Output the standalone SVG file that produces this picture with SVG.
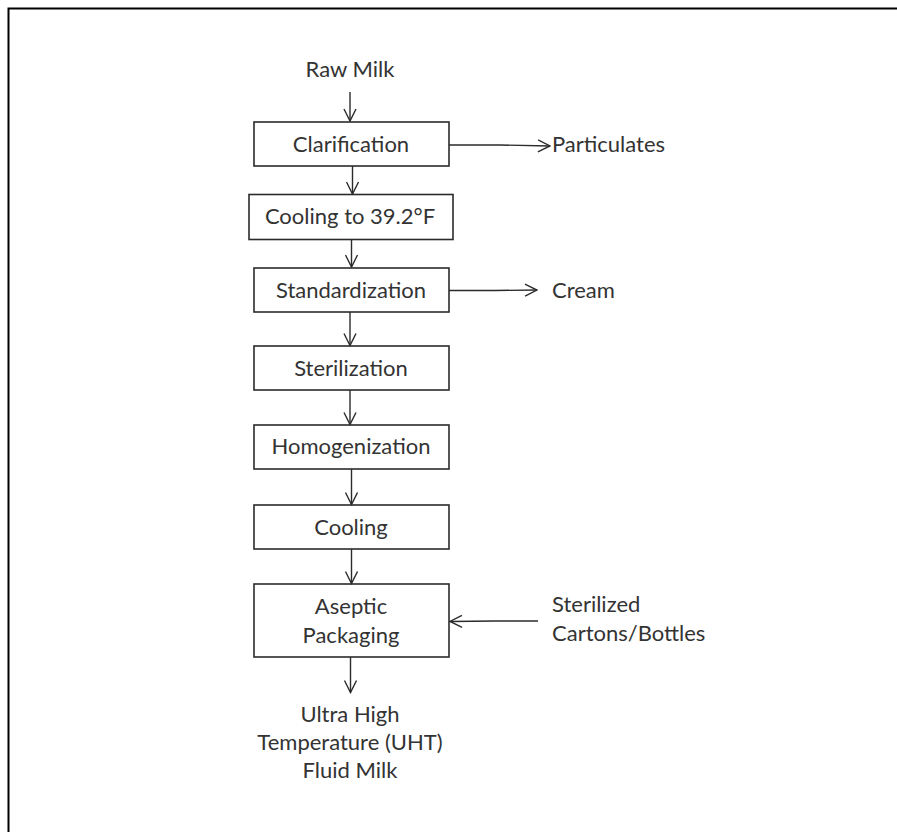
<svg xmlns="http://www.w3.org/2000/svg" width="897" height="832" viewBox="0 0 897 832">
<defs>
<marker id="arr" viewBox="0 0 14 14" refX="13" refY="7" markerWidth="14" markerHeight="14" markerUnits="userSpaceOnUse" orient="auto">
<path d="M1,1 L13,7 L1,13" fill="none" stroke="#2b2b2b" stroke-width="1.4"/>
</marker>
</defs>
<style>
.box{fill:#fff;stroke:#2b2b2b;stroke-width:1.6}
.t{font-family:Lato,"Liberation Sans",sans-serif;font-size:22px;fill:#333;text-anchor:middle}
.l{font-family:Lato,"Liberation Sans",sans-serif;font-size:22px;fill:#333}
.c{fill:none;stroke:#2b2b2b;stroke-width:1.4;marker-end:url(#arr)}
</style>
<rect x="0" y="0" width="897" height="832" fill="#fff"/>
<path d="M8.5,832 L8.5,8.5 L897,8.5" fill="none" stroke="#000" stroke-width="2"/>
<g id="raw-milk"><text class="t" x="350" y="77">Raw Milk</text></g>
<g id="clarification"><rect class="box" x="254" y="122" width="195" height="44"/><text class="t" x="351" y="151.5">Clarification</text></g>
<g id="particulates"><text class="l" x="552" y="151.5">Particulates</text></g>
<g id="cooling-39"><rect class="box" x="249" y="194.5" width="204" height="45"/><text class="t" x="350" y="224">Cooling to 39.2°F</text></g>
<g id="standardization"><rect class="box" x="254" y="268" width="195" height="44"/><text class="t" x="351" y="297.5">Standardization</text></g>
<g id="cream"><text class="l" x="552" y="297.5">Cream</text></g>
<g id="sterilization"><rect class="box" x="254" y="346" width="195" height="44"/><text class="t" x="351" y="375.5">Sterilization</text></g>
<g id="homogenization"><rect class="box" x="254" y="425" width="195" height="44"/><text class="t" x="351" y="454">Homogenization</text></g>
<g id="cooling"><rect class="box" x="254" y="505" width="195" height="44"/><text class="t" x="351" y="535">Cooling</text></g>
<g id="aseptic-packaging"><rect class="box" x="254" y="584" width="195" height="73"/><text class="t" x="351" y="614">Aseptic</text><text class="t" x="351" y="643">Packaging</text></g>
<g id="sterilized-cartons"><text class="l" x="552" y="612">Sterilized</text><text class="l" x="552" y="641">Cartons/Bottles</text></g>
<g id="uht-milk"><text class="t" x="350" y="722">Ultra High</text><text class="t" x="350" y="750">Temperature (UHT)</text><text class="t" x="350" y="778">Fluid Milk</text></g>
<g id="connectors">
<path class="c" d="M350,92 L350,121"/>
<path class="c" d="M449,145 L500,145 L550,146"/>
<path class="c" d="M352.5,166 L352.5,194"/>
<path class="c" d="M351.5,239.5 L351.5,267"/>
<path class="c" d="M449,290.5 L495,290.5 L537,290"/>
<path class="c" d="M350,312 L350,345.5"/>
<path class="c" d="M350,390 L350,424.5"/>
<path class="c" d="M351.5,469 L351.5,504.5"/>
<path class="c" d="M351.5,549 L351.5,583.5"/>
<path class="c" d="M538,621 L495,621 L450,621.5"/>
<path class="c" d="M350.5,657 L350.5,692.5"/>
</g>
</svg>
